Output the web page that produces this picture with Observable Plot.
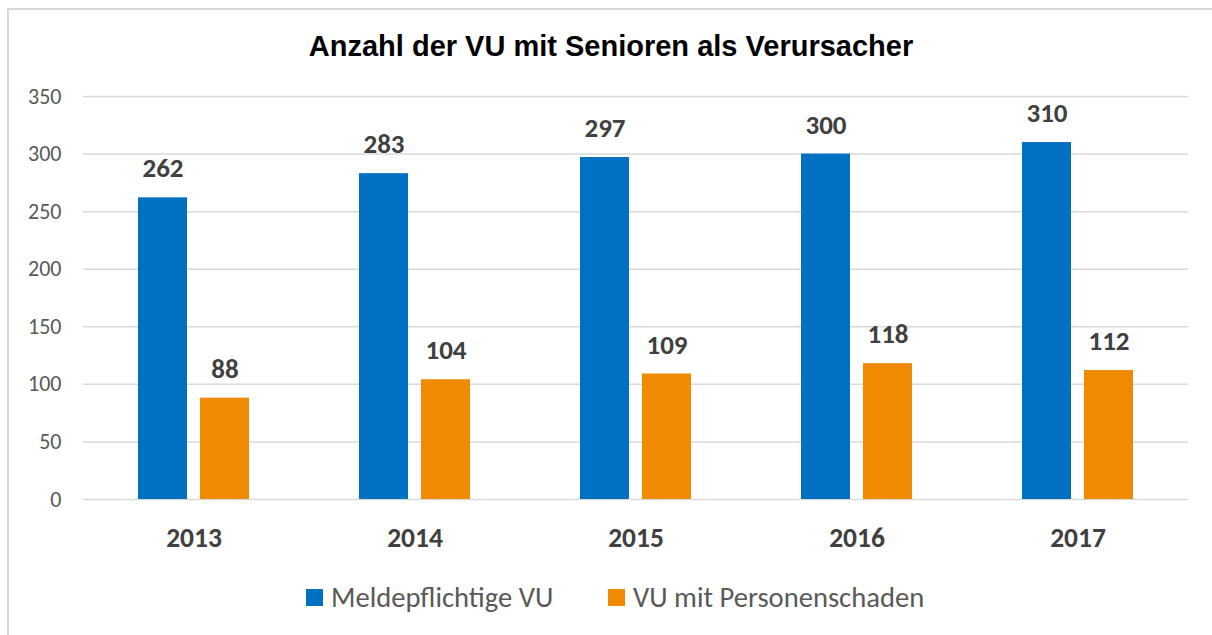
<!DOCTYPE html>
<html><head><meta charset="utf-8">
<script src="https://cdn.jsdelivr.net/npm/d3@7"></script>
<script src="https://cdn.jsdelivr.net/npm/@observablehq/plot@0.6"></script>
<style>
html,body{margin:0;padding:0;background:#fff;overflow:hidden;width:1212px;height:635px;}
#frame{position:absolute;left:7px;top:8px;width:1240px;height:660px;border-left:2px solid #d9d9d9;border-top:2px solid #d9d9d9;box-sizing:border-box;}
#title{position:absolute;left:0;width:1222px;top:30px;text-align:center;font:bold 29px "Liberation Sans",Arial,sans-serif;color:#000;line-height:32px;}
#chart{position:absolute;left:0;top:60px;}
.lg{position:absolute;top:582px;height:30px;display:flex;align-items:center;font:28.6px Carlito,Calibri,Lato,sans-serif;color:#595959;white-space:nowrap;}
.sw{width:17px;height:17px;margin-right:8px;}
</style></head>
<body>
<div id="frame"></div>
<div id="title">Anzahl der VU mit Senioren als Verursacher</div>
<div id="chart"></div>
<div id="legend"></div>
<script>
const years = ["2013", "2014", "2015", "2016", "2017"];
const series = ["Meldepflichtige VU", "VU mit Personenschaden"];
const meldepflichtig = [262, 283, 297, 300, 310];
const personenschaden = [88, 104, 109, 118, 112];
const yTicks = [0, 50, 100, 150, 200, 250, 300, 350];
const colors = ["#0070C0", "#F08A00"];

const data = years.flatMap((y, i) => [
  {year: y, series: series[0], value: meldepflichtig[i]},
  {year: y, series: series[1], value: personenschaden[i]}
]);

const font = "Carlito, Calibri, Lato, sans-serif";
const chart = Plot.plot({
  width: 1212, height: 500,
  marginLeft: 83, marginRight: 24, marginTop: 36, marginBottom: 61,
  style: {fontFamily: font, background: "transparent", overflow: "visible"},
  fx: {domain: years, padding: 0, label: null},
  x: {domain: series, paddingInner: 0.206, paddingOuter: 0.857, axis: null},
  y: {domain: [0, 350], label: null},
  color: {domain: series, range: colors},
  marks: [
    Plot.gridY(yTicks, {stroke: "#d9d9d9", strokeOpacity: 1, strokeWidth: 1.5}),
    Plot.axisY(yTicks, {tickSize: 0, tickPadding: 22, fontSize: 22, fill: "#595959", label: null}),
    Plot.axisFx({anchor: "bottom", tickSize: 0, tickPadding: 28, fontSize: 27.5, fontWeight: "bold", fill: "#404040", label: null}),
    Plot.barY(data, {fx: "year", x: "series", y: "value", fill: "series"}),
    Plot.text(data, {fx: "year", x: "series", y: "value", text: d => String(d.value), dy: -29, fontSize: 27, fontWeight: "bold", fill: "#404040"})
  ]
});
document.getElementById("chart").appendChild(chart);

const legend = document.getElementById("legend");
const lefts = [306, 608];
series.forEach((s, i) => {
  const item = document.createElement("div");
  item.className = "lg";
  item.style.left = lefts[i] + "px";
  const sw = document.createElement("div");
  sw.className = "sw";
  sw.style.background = colors[i];
  item.appendChild(sw);
  const t = document.createElement("span");
  t.textContent = s;
  item.appendChild(t);
  legend.appendChild(item);
});
</script>
</body></html>
